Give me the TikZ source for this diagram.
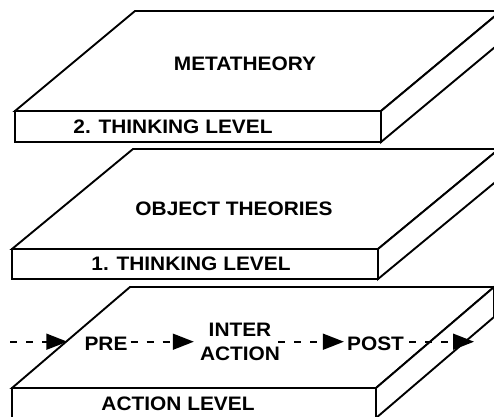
\documentclass[tikz,border=0pt]{standalone}
\usepackage{fontspec}
\setmainfont{Liberation Sans}[FakeStretch=1.07]
\usetikzlibrary{arrows.meta}
\begin{document}
\begin{tikzpicture}[x=1pt,y=-1pt,
  slab/.style={draw=black,fill=white,line width=1.9pt,line join=miter},
  lbl/.style={font=\bfseries\fontsize{19.5}{23.7}\selectfont,inner sep=0pt,text=black},
  flow/.style={draw=black,line width=1.6pt,dash pattern=on 7pt off 9pt,
    -{Triangle[length=21pt,width=16pt]}}]
\useasboundingbox (0,0) rectangle (494,416);
\clip (0,0) rectangle (494,416);
% slab 1
\draw[slab] (15,111) -- (135,11) -- (501,11) -- (381,111) -- cycle;
\draw[slab] (381,111) -- (501,11) -- (501,42) -- (381,142) -- cycle;
\draw[slab] (15,111) rectangle (381,142);
% slab 2
\draw[slab] (12,249) -- (133,149) -- (499,149) -- (378,249) -- cycle;
\draw[slab] (378,249) -- (499,149) -- (499,179) -- (378,279) -- cycle;
\draw[slab] (12,249) rectangle (378,279);
% slab 3
\draw[slab] (12,388) -- (130,287) -- (494,287) -- (376,388) -- cycle;
\draw[slab] (376,388) -- (494,287) -- (494,317) -- (376,418) -- cycle;
\draw[slab] (12,388) rectangle (376,418);
% labels
\node[lbl,anchor=base] (meta) at (245,70.7) {METATHEORY};
\node[lbl,anchor=base] (tl2) at (173,133) {2. THINKING LEVEL};
\node[lbl,anchor=base] (obj) at (234,215) {OBJECT THEORIES};
\node[lbl,anchor=base] (tl1) at (191,270.7) {1. THINKING LEVEL};
\node[lbl,anchor=base] (act) at (178,410) {ACTION LEVEL};
\node[lbl,anchor=base] (pre) at (106,350) {PRE};
\node[lbl,align=center] (inter) at (240,341.8) {INTER\\ACTION};
\node[lbl,anchor=base] (post) at (375.5,350) {POST};
\coordinate (start) at (10,341.7);
\coordinate (finish) at (474,341.7);
% flow arrows
\draw[flow] (start) -- ([xshift=-17pt]pre.west |- start);
\draw[flow] ([xshift=3pt]pre.east |- start) -- ([xshift=-6pt]inter.west |- start);
\draw[flow] ([xshift=-2pt]inter.east |- start) -- ([xshift=-3pt]post.west |- start);
\draw[flow] ([xshift=5pt]post.east |- start) -- (finish);
\end{tikzpicture}
\end{document}
